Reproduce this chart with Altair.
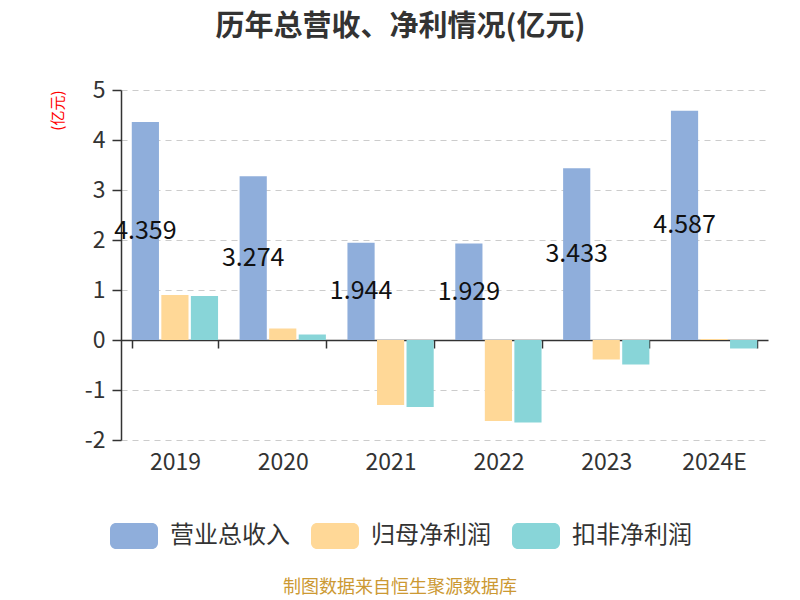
import altair as alt
import pandas as pd

years = ["2019", "2020", "2021", "2022", "2023", "2024E"]
series = ["营业总收入", "归母净利润", "扣非净利润"]
revenue = [4.359, 3.274, 1.944, 1.929, 3.433, 4.587]
net_profit = [0.90, 0.23, -1.30, -1.62, -0.39, 0.02]
deducted_profit = [0.88, 0.11, -1.34, -1.65, -0.49, -0.17]
colors = ["#8FAEDB", "#FFD897", "#88D5D8"]
y_ticks = [-2, -1, 0, 1, 2, 3, 4, 5]

rows = []
for i, y in enumerate(years):
    for s, vals in zip(series, [revenue, net_profit, deducted_profit]):
        rows.append({"year": y, "series": s, "value": vals[i]})
df = pd.DataFrame(rows)
rev_df = pd.DataFrame({"year": years, "series": series[0], "value": revenue})

FONT = "Noto Sans CJK SC"
W, H = 647, 350

x_enc = alt.X("year:N", sort=years, title=None,
              scale=alt.Scale(paddingInner=0.2, paddingOuter=0.1),
              axis=alt.Axis(labelAngle=0, labelFontSize=23, labelColor="#333333",
                            labelFont=FONT, domainColor="#333333", domainWidth=1.5,
                            tickColor="#333333", tickWidth=1.5, tickSize=8,
                            tickBand="extent", offset=-100, labelPadding=103, grid=False))
xo_enc = alt.XOffset("series:N", sort=series,
                     scale=alt.Scale(domain=series, paddingInner=0.08))
y_scale = alt.Scale(domain=[-2, 5], nice=False)

rounded = ("M-0.75,-0.54 H0.75 A0.25,0.25 0 0 1 1,-0.29 V0.29 A0.25,0.25 0 0 1 0.75,0.54 "
           "H-0.75 A0.25,0.25 0 0 1 -1,0.29 V-0.29 A0.25,0.25 0 0 1 -0.75,-0.54 Z")

bars = alt.Chart(df).mark_bar().encode(
    x=x_enc,
    xOffset=xo_enc,
    y=alt.Y("value:Q", scale=y_scale, title="(亿元)",
            axis=alt.Axis(values=y_ticks, labelFontSize=23, labelColor="#333333",
                          labelFont=FONT, labelExpr="toString(datum.value)",
                          labelPadding=7,
                          domainColor="#333333", domainWidth=1.5,
                          tickColor="#333333", tickWidth=1.5, tickSize=9,
                          gridColor="#CCCCCC", gridDash=[6, 5], gridWidth=1.2,
                          titleColor="red", titleFontSize=15, titleFont=FONT,
                          titleFontWeight="normal", titleAnchor="end",
                          titlePadding=19)),
    color=alt.Color("series:N", sort=series,
                    scale=alt.Scale(domain=series, range=colors),
                    legend=alt.Legend(title=None, orient="none", direction="horizontal",
                                      legendX=-11, legendY=422,
                                      symbolType=rounded, symbolSize=2304,
                                      symbolStrokeWidth=0, symbolOpacity=1,
                                      labelFontSize=24, labelColor="#333333",
                                      labelFont=FONT, labelOffset=12,
                                      columnPadding=21)),
)

labels = alt.Chart(rev_df).transform_calculate(
    mid="datum.value / 2"
).mark_text(fontSize=25, font=FONT, color="#111111", baseline="middle").encode(
    x=alt.X("year:N", sort=years),
    xOffset=alt.XOffset("series:N", sort=series),
    y=alt.Y("mid:Q", scale=y_scale),
    text=alt.Text("value:Q", format=".3f"),
)

footer = alt.Chart(pd.DataFrame({"t": ["制图数据来自恒生聚源数据库"]})).mark_text(
    fontSize=18, font=FONT, color="#CC9933", baseline="middle"
).encode(x=alt.value(279), y=alt.value(498), text="t:N")

chart = alt.layer(bars, labels, footer).properties(
    width=W, height=H,
    title=alt.TitleParams("历年总营收、净利情况(亿元)", fontSize=29, font=FONT,
                          fontWeight="bold", color="#333333", dx=-44, offset=37),
    autosize=alt.AutoSizeParams(type="none"),
    padding={"left": 113, "top": 82, "right": 24, "bottom": 170},
).configure_view(stroke=None)

chart.save("out.html", embed_options={"renderer": "svg", "actions": False})
